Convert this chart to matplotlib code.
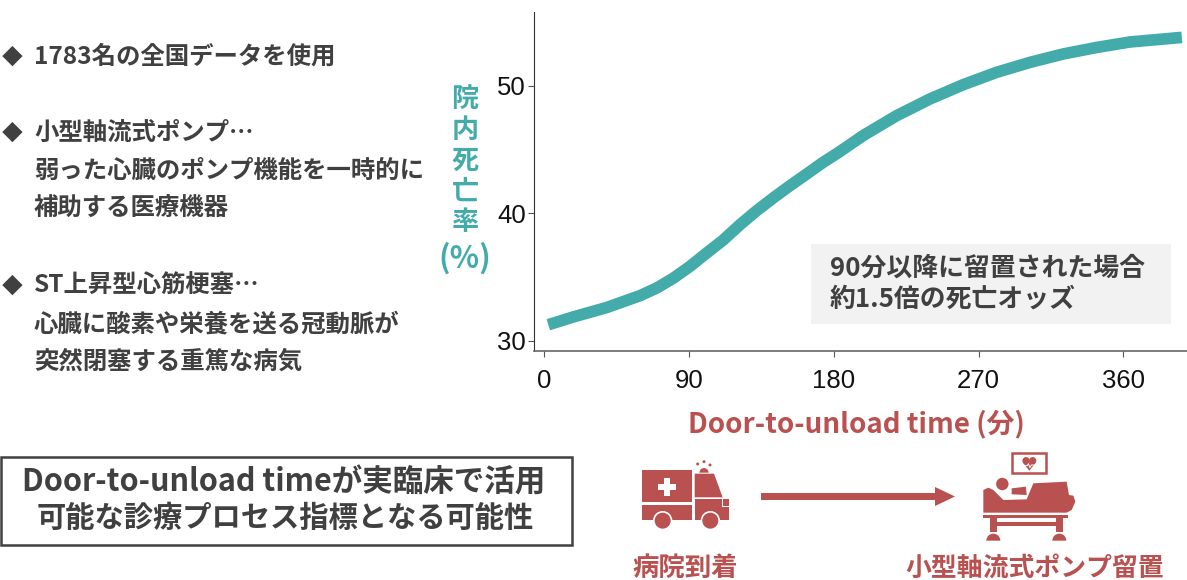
import matplotlib
matplotlib.use('Agg')
import matplotlib.pyplot as plt
from matplotlib.patches import Rectangle, Polygon, Circle, Wedge

plt.rcParams['font.family'] = ['Noto Sans CJK JP', 'DejaVu Sans']

# 曲線の読み取り値
minutes = [2.4, 17.9, 38.7, 59.4, 69.8, 80.1, 90.5, 100.9, 111.2, 121.6, 132, 142.3,
           152.7, 163, 173.4, 182.7, 198.3, 219, 239.7, 260.4, 281.2, 301.9, 322.6,
           343.4, 364.1, 384.8, 396.3]
mortality = [31.25, 31.86, 32.6, 33.53, 34.13, 34.9, 35.83, 36.88, 37.9, 39.1, 40.2, 41.2,
             42.16, 43.07, 44.0, 44.75, 46.1, 47.65, 48.96, 50.08, 51.05, 51.83, 52.49,
             53.0, 53.43, 53.66, 53.79]
x_ticks = [0, 90, 180, 270, 360]
y_ticks = [30, 40, 50]

bullet_lines = [
    ('◆', 12, 57), ('1783名の全国データを使用', 34, 57),
    ('◆', 12, 133), ('小型軸流式ポンプ…', 34, 133),
    ('弱った心臓のポンプ機能を一時的に', 34, 171),
    ('補助する医療機器', 34, 209),
    ('◆', 12, 286), ('ST上昇型心筋梗塞…', 34, 286),
    ('心臓に酸素や栄養を送る冠動脈が', 34, 324),
    ('突然閉塞する重篤な病気', 34, 362),
]
ylabel_chars = [('院', 99, 19.5), ('内', 130, 19.5), ('死', 161, 19.5), ('亡', 192, 19.5),
                ('率', 222, 19.5), ('(%)', 258, 22)]

TEAL = '#43abaa'
RED = '#b85150'
DARK = '#404040'

fig = plt.figure(figsize=(11.87, 5.8), dpi=100)

# ピクセル座標のオーバーレイ
bg = fig.add_axes([0, 0, 1, 1])
bg.set_xlim(0, 1187)
bg.set_ylim(580, 0)
bg.axis('off')

# 本体のグラフ
ax = fig.add_axes([534 / 1187, 1 - 351 / 580, (1187 - 534) / 1187, (351 - 12) / 580])
ax.patch.set_alpha(0)
ax.plot(minutes, mortality, color=TEAL, lw=8.4, solid_capstyle='butt', solid_joinstyle='round')
ax.set_xlim(-6.5, 399.5)
ax.set_ylim(29.19, 55.78)
ax.set_xticks(x_ticks)
ax.set_yticks(y_ticks)
ax.spines['top'].set_visible(False)
ax.spines['right'].set_visible(False)
ax.spines['bottom'].set_color('#666666')
ax.spines['bottom'].set_linewidth(1.2)
ax.spines['left'].set_color('#333333')
ax.tick_params(axis='x', labelsize=18.5, length=4, width=0.8, color='#555555', pad=9)
ax.tick_params(axis='y', labelsize=18.5, length=4, width=0.8, color='#555555', pad=2)
for lab in ax.get_xticklabels() + ax.get_yticklabels():
    lab.set_fontfamily('Liberation Sans')
    lab.set_color('#111111')

# 左の箇条書き
for txt, x, y in bullet_lines:
    bg.text(x, y, txt, fontsize=17.6 if txt != '◆' else 15, fontweight='bold', color=DARK,
            ha='center' if txt == '◆' else 'left', va='center')

# 縦軸ラベル
for ch, y, size in ylabel_chars:
    bg.text(465, y, ch, fontsize=size, fontweight='bold', color=TEAL, ha='center', va='center')

# 注釈ボックス
bg.add_patch(Rectangle((811, 244), 360, 80, fc='#f2f2f2', ec='none'))
bg.text(830, 268, '90分以降に留置された場合', fontsize=18.6, fontweight='bold', color=DARK, va='center')
bg.text(830, 299, '約1.5倍の死亡オッズ', fontsize=18.6, fontweight='bold', color=DARK, va='center')

bg.text(856, 424, 'Door-to-unload time (分)', fontsize=20, fontweight='bold', color=RED,
        ha='center', va='center')

# 結論ボックス
bg.add_patch(Rectangle((0.5, 457), 571, 88, fc='white', ec=DARK, lw=1.8))
bg.text(284, 482, 'Door-to-unload timeが実臨床で活用', fontsize=22, fontweight='bold', color=DARK,
        ha='center', va='center')
bg.text(285, 518, '可能な診療プロセス指標となる可能性', fontsize=21.1, fontweight='bold', color=DARK,
        ha='center', va='center')


# 救急車アイコン(切り抜きの座標から変換)
def amb(zx, zy):
    return 630 + zx / 3, 455 + zy / 3


def amb_rect(x0, y0, x1, y1, color=RED):
    bg.add_patch(Polygon([amb(x0, y0), amb(x1, y0), amb(x1, y1), amb(x0, y1)], fc=color, ec='none'))


amb_rect(36, 45, 186, 140)
amb_rect(36, 149, 186, 195)
bg.add_patch(Polygon([amb(194, 56), amb(252, 56), amb(278, 127), amb(194, 127)], fc=RED, ec='none'))
amb_rect(194, 133, 297, 195)
amb_rect(276, 133, 280, 152, 'white')
amb_rect(276, 152, 297, 156, 'white')
amb_rect(83, 86, 138, 104, 'white')
amb_rect(101, 68, 120, 122, 'white')
amb_rect(186, 140, 194, 200, 'white')
for wx in (98, 241):
    bg.add_patch(Circle(amb(wx, 197), 9.7, fc='white', ec='none'))
    bg.add_patch(Circle(amb(wx, 197), 8, fc=RED, ec='none'))
bg.add_patch(Wedge(amb(222, 53), 4.6, 180, 360, fc=RED, ec='none'))
for bx, by in ((203, 27), (222, 20), (240, 30)):
    bg.add_patch(Circle(amb(bx, by), 1.5, fc=RED, ec='none'))

# 矢印
bg.add_patch(Polygon([(761, 493), (935, 493), (935, 487), (955, 496.5), (935, 506),
                      (935, 500), (761, 500)], fc=RED, ec='none'))


# ベッドアイコン(切り抜きの座標から変換)
def bed(zx, zy):
    return 970 + zx / 3, 445 + zy / 3


bg.add_patch(Rectangle(bed(127, 23), 34, 20.5, fc='white', ec=RED, lw=1.8))
bg.add_patch(Circle(bed(168, 47), 3.6, fc=RED, ec='none'))
bg.add_patch(Circle(bed(188, 47), 3.6, fc=RED, ec='none'))
bg.add_patch(Polygon([bed(158, 52), bed(198, 52), bed(178, 77)], fc=RED, ec='none'))
bg.plot(*zip(bed(165, 62), bed(172, 62), bed(175, 56), bed(180, 68), bed(184, 60), bed(192, 60)),
        color='white', lw=0.7)
bg.add_patch(Circle(bed(97, 117), 6.2, fc=RED, ec='none'))
bg.add_patch(Polygon([bed(125, 130), bed(168, 125), bed(170, 150), bed(125, 148)], fc=RED, ec='none'))
bg.add_patch(Polygon([bed(40, 135), bed(55, 128), bed(70, 135), bed(100, 165), bed(170, 163),
                      bed(190, 115), bed(290, 110), bed(297, 150), bed(310, 152), bed(316, 170),
                      bed(305, 195), bed(290, 203), bed(40, 203)], fc=RED, ec='none', lw=0))
bg.add_patch(Polygon([bed(40, 210), bed(295, 210), bed(295, 218), bed(40, 218)], fc=RED, ec='none'))
for x0, x1 in ((60, 82), (257, 280)):
    bg.add_patch(Polygon([bed(x0, 215), bed(x1, 215), bed(x1, 262), bed(x0, 262)], fc=RED, ec='none'))
bg.add_patch(Polygon([bed(60, 232), bed(280, 232), bed(280, 242), bed(60, 242)], fc=RED, ec='none'))
for wx in (70, 268):
    bg.add_patch(Wedge(bed(wx, 287), 7, 180, 360, fc=RED, ec='none'))

bg.text(685, 568, '病院到着', fontsize=19, fontweight='bold', color=RED, ha='center', va='center')
bg.text(1034.5, 568, '小型軸流式ポンプ留置', fontsize=18.6, fontweight='bold', color=RED, ha='center', va='center')

fig.savefig('out.png', dpi=100)
